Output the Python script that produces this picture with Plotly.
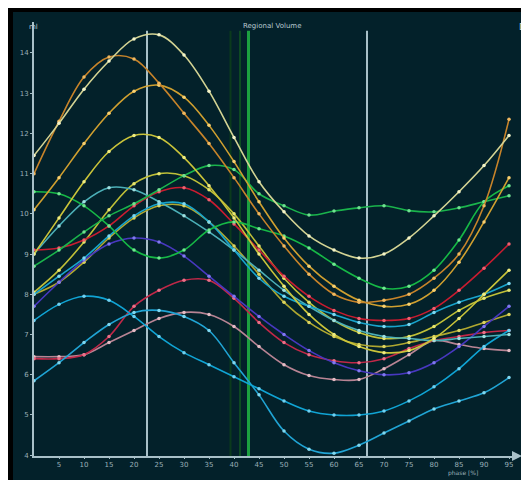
import plotly.graph_objects as go

phase = [0, 5, 10, 15, 20, 25, 30, 35, 40, 45, 50, 55, 60, 65, 70, 75, 80, 85, 90, 95]

seg_pale_yellow = [11.45, 12.25, 13.1, 13.8, 14.35, 14.45, 13.95, 13.05, 11.9, 10.8, 10.05, 9.45, 9.1, 8.9, 9.0, 9.4, 9.95, 10.55, 11.2, 11.95]
seg_orange = [11.0, 12.3, 13.4, 13.9, 13.85, 13.25, 12.5, 11.75, 10.9, 10.0, 9.2, 8.5, 8.0, 7.8, 7.85, 8.0, 8.4, 9.0, 10.2, 12.35]
seg_gold = [10.1, 10.9, 11.75, 12.5, 13.05, 13.2, 12.9, 12.2, 11.3, 10.3, 9.4, 8.7, 8.2, 7.85, 7.7, 7.75, 8.1, 8.8, 9.8, 10.9]
seg_yellow = [9.0, 9.9, 10.8, 11.55, 11.95, 11.9, 11.4, 10.7, 9.9, 9.0, 8.2, 7.5, 7.0, 6.7, 6.55, 6.6, 6.9, 7.4, 8.0, 8.6]
seg_yellow2 = [8.05, 8.6, 9.3, 10.1, 10.75, 11.0, 10.95, 10.6, 10.0, 9.2, 8.4, 7.8, 7.35, 7.05, 6.9, 6.95, 7.2, 7.6, 7.9, 8.1]
seg_olive = [8.0, 8.3, 8.8, 9.4, 9.9, 10.2, 10.2, 9.8, 9.2, 8.5, 7.8, 7.3, 6.95, 6.75, 6.7, 6.8, 6.95, 7.1, 7.3, 7.5]
seg_green1 = [10.55, 10.5, 10.2, 9.7, 9.1, 8.9, 9.1, 9.6, 9.8, 9.63, 9.45, 9.15, 8.75, 8.4, 8.15, 8.2, 8.6, 9.35, 10.3, 10.7]
seg_green2 = [8.7, 9.1, 9.55, 9.95, 10.25, 10.6, 10.95, 11.2, 11.1, 10.5, 10.2, 9.97, 10.07, 10.15, 10.2, 10.08, 10.05, 10.15, 10.3, 10.45]
seg_cyan = [8.0, 8.45, 8.9, 9.45, 9.95, 10.25, 10.25, 9.8, 9.1, 8.4, 7.95, 7.7, 7.5, 7.3, 7.2, 7.25, 7.55, 7.8, 8.0, 8.27]
seg_teal = [9.0, 9.7, 10.3, 10.65, 10.6, 10.3, 9.95, 9.55, 9.1, 8.6, 8.1, 7.7, 7.35, 7.1, 6.95, 6.9, 6.85, 6.9, 6.95, 7.0]
seg_blue = [7.7, 8.3, 8.85, 9.25, 9.4, 9.3, 8.95, 8.45, 7.95, 7.45, 7.0, 6.6, 6.3, 6.1, 6.0, 6.05, 6.3, 6.7, 7.2, 7.7]
seg_red = [9.1, 9.15, 9.35, 9.7, 10.2, 10.55, 10.65, 10.35, 9.75, 9.1, 8.45, 7.95, 7.6, 7.4, 7.35, 7.4, 7.65, 8.1, 8.65, 9.25]
seg_red2 = [6.4, 6.4, 6.5, 6.95, 7.7, 8.1, 8.35, 8.35, 7.9, 7.3, 6.8, 6.5, 6.35, 6.3, 6.4, 6.65, 6.85, 6.95, 7.05, 7.1]
seg_pink = [6.45, 6.45, 6.5, 6.8, 7.1, 7.4, 7.55, 7.5, 7.2, 6.7, 6.25, 5.98, 5.88, 5.88, 6.15, 6.5, 6.85, 6.75, 6.65, 6.6]
seg_cyan2 = [7.35, 7.75, 7.95, 7.85, 7.45, 6.95, 6.55, 6.25, 5.95, 5.65, 5.35, 5.1, 5.0, 5.0, 5.1, 5.35, 5.7, 6.15, 6.7, 7.1]
seg_cyan3 = [5.85, 6.3, 6.8, 7.25, 7.55, 7.6, 7.45, 7.1, 6.3, 5.5, 4.6, 4.15, 4.05, 4.25, 4.55, 4.85, 5.15, 5.35, 5.55, 5.93]

series = [
    ("olive", seg_olive, "#b0a830", "#dcd460"),
    ("yellow2", seg_yellow2, "#c0c038", "#e6e670"),
    ("pink", seg_pink, "#b88494", "#e4bcc4"),
    ("red2", seg_red2, "#c02848", "#ec7088"),
    ("blue", seg_blue, "#4838c0", "#8078f0"),
    ("cyan3", seg_cyan3, "#20a4d4", "#80d8f0"),
    ("cyan2", seg_cyan2, "#10a4d4", "#70d0f0"),
    ("teal", seg_teal, "#4cb0b8", "#a0e0e0"),
    ("cyan", seg_cyan, "#18a4cc", "#80d8f0"),
    ("red", seg_red, "#c81c30", "#f06070"),
    ("green2", seg_green2, "#1ab44c", "#70e090"),
    ("green1", seg_green1, "#16b846", "#70e890"),
    ("yellow", seg_yellow, "#cac43a", "#f0ec80"),
    ("gold", seg_gold, "#d0a030", "#f8d070"),
    ("orange", seg_orange, "#c8842a", "#f0b860"),
    ("pale", seg_pale_yellow, "#d4d494", "#f4f4c8"),
]

y_ticks = [4, 5, 6, 7, 8, 9, 10, 11, 12, 13, 14]
x_ticks = [5, 10, 15, 20, 25, 30, 35, 40, 45, 50, 55, 60, 65, 70, 75, 80, 85, 90, 95]

fig = go.Figure()
for name, vals, col, mcol in series:
    fig.add_trace(go.Scatter(
        x=phase, y=vals, name=name, mode="lines+markers",
        line=dict(color=col, width=1.6, shape="spline", smoothing=1.0),
        marker=dict(color=mcol, size=3.5),
        hoverinfo="skip", showlegend=False,
    ))

BG = "#03212a"
AX = "#a8c0c8"

for xv, col, w in [(39.3, "#0b3a1c", 2), (41.2, "#0d4a22", 2), (42.9, "#1ca040", 3),
                   (22.6, "#a8c0c8", 2), (66.6, "#a8c0c8", 2)]:
    fig.add_shape(type="line", xref="x", yref="y", x0=xv, x1=xv, y0=3.98, y1=14.55,
                  line=dict(color=col, width=w), layer="below")


# screen pixel -> paper (page body margin of 8px included)
def px(p):
    return (p - 34) / 484.0


def py(p):
    return (456 - p) / 434.0


fig.add_shape(type="rect", xref="paper", yref="paper", x0=px(8), x1=px(13), y0=py(480), y1=py(8),
              fillcolor="black", line=dict(width=0), layer="above")
fig.add_shape(type="rect", xref="paper", yref="paper", x0=px(8), x1=px(529), y0=py(12), y1=py(8),
              fillcolor="black", line=dict(width=0), layer="above")

fig.add_annotation(text="Regional Volume", xref="paper", yref="paper", x=px(272), y=py(20),
                   showarrow=False, font=dict(size=7, color="#b8c8d0", family="DejaVu Sans"))
fig.add_annotation(text="ml", xref="paper", yref="paper", x=px(27), y=py(21),
                   showarrow=False, font=dict(size=7, color="#b8c8d0", family="DejaVu Sans"))
fig.add_annotation(text="phase [%]", xref="paper", yref="paper", x=px(480), y=py(479),
                   yanchor="bottom", showarrow=False,
                   font=dict(size=6, color="#9ab0b8", family="DejaVu Sans"))
fig.add_annotation(text="D", xref="paper", yref="paper", x=px(528), y=py(20), xanchor="right",
                   showarrow=False, font=dict(size=9, color="#d0d8dc", family="DejaVu Sans"))
fig.add_annotation(xref="paper", yref="paper", x=px(522), y=py(456), ax=-9, ay=0,
                   axref="pixel", ayref="pixel", text="", showarrow=True, arrowhead=2,
                   arrowsize=1, arrowwidth=2, arrowcolor=AX)

fig.update_layout(
    width=521, height=472,
    margin=dict(l=26, r=11, t=14, b=24),
    paper_bgcolor=BG, plot_bgcolor=BG,
    xaxis=dict(range=[0, 96.8], tickvals=x_ticks, ticktext=[str(v) for v in x_ticks],
               showgrid=False, zeroline=False, showline=True, linecolor=AX, linewidth=2,
               ticks="outside", ticklen=1, tickcolor=AX, automargin=False,
               tickfont=dict(size=7, color="#9ab0b8", family="DejaVu Sans")),
    yaxis=dict(range=[3.98, 14.77], tickvals=y_ticks, ticktext=[str(v) for v in y_ticks],
               showgrid=False, zeroline=False, showline=True, linecolor=AX, linewidth=2,
               ticks="outside", ticklen=2, tickcolor=AX, automargin=False,
               tickfont=dict(size=7, color="#9ab0b8", family="DejaVu Sans")),
)

fig.write_html("out.html")
